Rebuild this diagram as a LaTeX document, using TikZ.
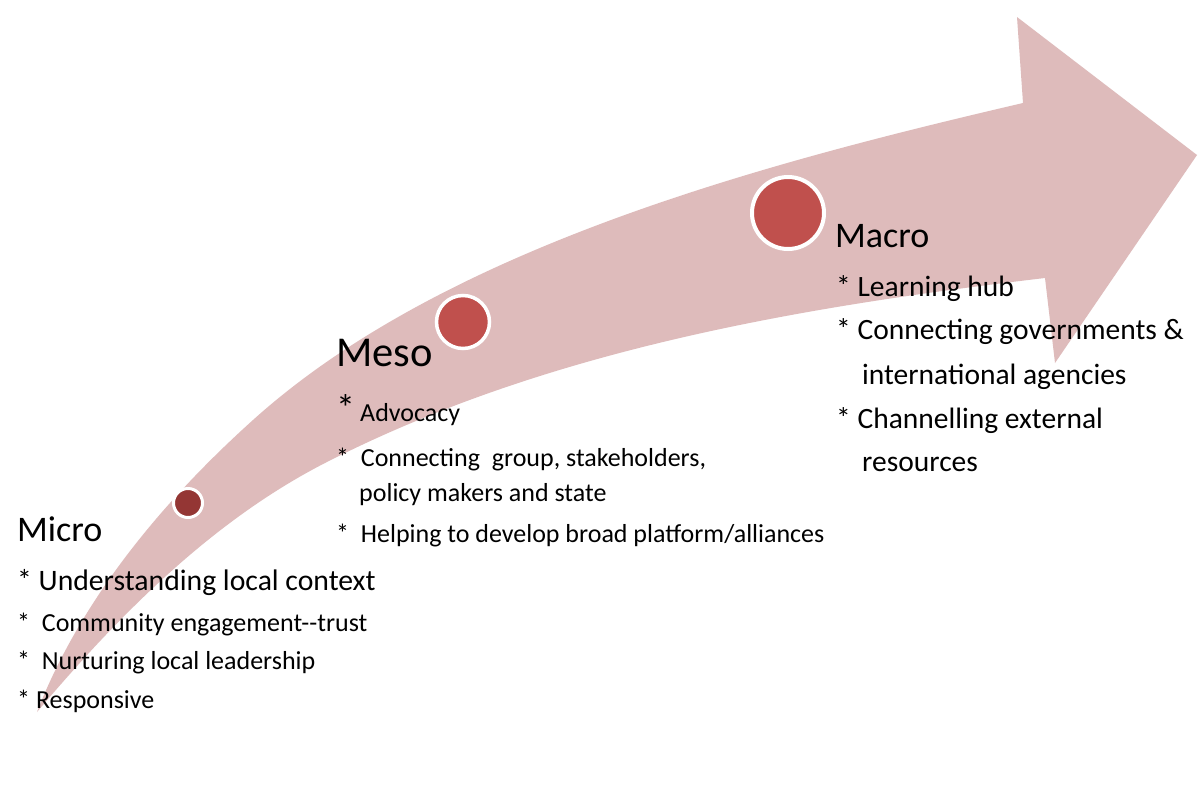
\documentclass[tikz,border=0pt]{standalone}
\usepackage{fontspec}
\setmainfont{Carlito}
\definecolor{arrowpink}{RGB}{222,187,187}
\definecolor{dotred}{RGB}{192,80,77}
\definecolor{dotdark}{RGB}{148,54,52}
\newcommand\setfs[1]{\fontsize{#1}{#1}\selectfont}
\begin{document}
\begin{tikzpicture}[x=1pt,y=-1pt,
  txt/.style={anchor=base west, inner sep=0pt, text=black},
  dot/.style={circle, draw=white, inner sep=0pt}]
\useasboundingbox (0,0) rectangle (1200,809);
\fill[white] (0,0) rectangle (1200,809);
% curved arrow
\fill[arrowpink] (37,712)
  .. controls (81,599) and (163,501) .. (253,420)
  .. controls (446,246) and (770,162) .. (1023,103)
  -- (1017,17) -- (1197,155) -- (1055,363) -- (1045,278)
  .. controls (799,307) and (546,350) .. (325,463)
  .. controls (212,521) and (119,615) .. (37,712)
  -- cycle;
% circles
\node[dot, fill=dotdark, line width=3pt, minimum size=29pt] (cmicro) at (188,503) {};
\node[dot, fill=dotred, line width=3.5pt, minimum size=53pt] (cmeso) at (463,322) {};
\node[dot, fill=dotred, line width=4pt, minimum size=72pt] (cmacro) at (788,213) {};
% Micro
\node[txt, font=\setfs{36}] (micro) at (17,541) {Micro};
\node[txt, font=\setfs{29.7}] (mi1) at (17,590) {* Understanding local context};
\node[txt, font=\setfs{26}] (mi2) at (17,631) {*\ \ Community engagement-\kern0pt-trust};
\node[txt, font=\setfs{26}] (mi3) at (17,669) {*\ \ Nurturing local leadership};
\node[txt, font=\setfs{26}] (mi4) at (17,708) {* Responsive};
% Meso
\node[txt, font=\setfs{42.5}] (meso) at (336,366) {Meso};
\node[txt, font=\setfs{26}] (me1) at (336,421) {\makebox[24pt][l]{\setfs{38}*}Advocacy};
\node[txt, font=\setfs{26}] (me2) at (336,466) {*\ \ Connecting\ \ group, stakeholders,};
\node[txt, font=\setfs{26}] (me3) at (359,501) {policy makers and state};
\node[txt, font=\setfs{26}] (me4) at (336,542) {*\ \ Helping to develop broad platform/alliances};
% Macro
\node[txt, font=\setfs{36}] (macro) at (835,247) {Macro};
\node[txt, font=\setfs{29.5}] (ma1) at (836,296) {* Learning hub};
\node[txt, font=\setfs{29.5}] (ma2) at (836,339) {* Connecting governments \&};
\node[txt, font=\setfs{29.5}] (ma3) at (862,384) {international agencies};
\node[txt, font=\setfs{29.5}] (ma4) at (836,428) {* Channelling external};
\node[txt, font=\setfs{29.5}] (ma5) at (862,471) {resources};
\end{tikzpicture}
\end{document}
